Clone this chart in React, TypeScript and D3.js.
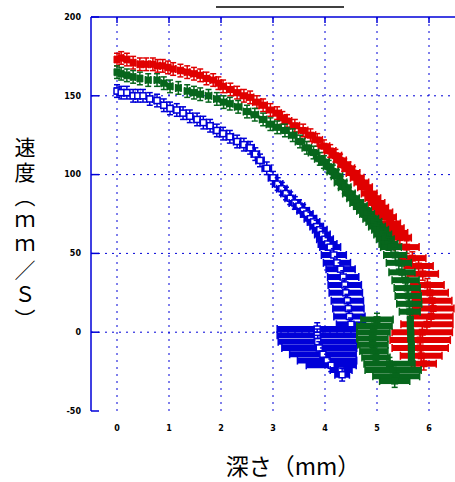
import React from 'react';
import * as d3 from 'd3';

const width = 455;
const height = 482;
const margin = {top: 17, left: 91, bottom: 411, right: 455};
const blue = '#0000d8';
const green = '#07661c';
const red = '#e00000';

const xTicks = [0, 1, 2, 3, 4, 5, 6];
const yTicks = [-50, 0, 50, 100, 150, 200];

// [depth, speed, depth error]
const blueData: [number, number, number][] = [
  [0.00, 153, 0.04], [0.08, 152, 0.04], [0.19, 152, 0.04], [0.31, 150, 0.04], [0.40, 150, 0.05],
  [0.50, 150, 0.05], [0.63, 148, 0.05], [0.77, 147, 0.05], [0.90, 144, 0.05], [1.02, 142, 0.05],
  [1.15, 141, 0.06], [1.27, 139, 0.06], [1.40, 137, 0.06], [1.54, 135, 0.06], [1.66, 133, 0.06],
  [1.79, 131, 0.06], [1.92, 128, 0.07], [2.04, 126, 0.07], [2.17, 124, 0.07], [2.31, 121, 0.07],
  [2.44, 119, 0.08], [2.56, 117, 0.08], [2.66, 113, 0.08], [2.75, 109, 0.08], [2.88, 104, 0.09],
  [3.00, 98, 0.09], [3.09, 94, 0.1], [3.17, 91, 0.1], [3.25, 88, 0.1], [3.33, 85, 0.1],
  [3.42, 82, 0.11], [3.50, 80, 0.11], [3.58, 77, 0.12], [3.65, 75, 0.12], [3.72, 72, 0.12],
  [3.78, 70, 0.12], [3.84, 67, 0.13], [3.90, 65, 0.14], [3.95, 62, 0.15], [4.00, 59, 0.16],
  [4.05, 56, 0.18], [4.10, 54, 0.2], [4.17, 49, 0.24], [4.23, 44, 0.26], [4.30, 40, 0.28],
  [4.35, 35, 0.3], [4.38, 30, 0.32], [4.40, 25, 0.32], [4.43, 20, 0.31], [4.45, 15, 0.3],
  [4.47, 10, 0.3], [4.50, 5, 0.28],
  [3.85, 2, 0.77], [3.85, -2, 0.77], [3.86, -6, 0.76], [3.89, -10, 0.72], [3.96, -14, 0.64],
  [4.04, -18, 0.57], [4.12, -21, 0.48], [4.31, -24, 0.21], [4.33, -27, 0.14],
];

const redData: [number, number, number][] = [
  [0.00, 173, 0.04], [0.08, 174, 0.04], [0.19, 173, 0.04], [0.31, 171, 0.04], [0.44, 170, 0.04],
  [0.56, 170, 0.05], [0.69, 170, 0.05], [0.78, 169, 0.05], [0.88, 169, 0.05], [0.98, 168, 0.05],
  [1.08, 167, 0.05], [1.22, 166, 0.05], [1.35, 165, 0.05], [1.48, 164, 0.06], [1.60, 163, 0.06],
  [1.72, 161, 0.06], [1.85, 160, 0.06], [1.95, 158, 0.06], [2.04, 156, 0.06], [2.18, 154, 0.07],
  [2.31, 152, 0.07], [2.44, 150, 0.07], [2.56, 149, 0.07], [2.69, 146, 0.08], [2.81, 144, 0.08],
  [2.95, 141, 0.08], [3.08, 139, 0.08], [3.18, 136, 0.09], [3.27, 134, 0.09], [3.42, 131, 0.09],
  [3.58, 128, 0.09], [3.72, 125, 0.1], [3.85, 122, 0.1], [3.98, 118, 0.11], [4.10, 115, 0.11],
  [4.20, 112, 0.12], [4.29, 109, 0.12], [4.37, 106, 0.12], [4.45, 104, 0.12], [4.54, 101, 0.13],
  [4.62, 98, 0.13], [4.70, 95, 0.14], [4.77, 92, 0.14], [4.85, 88, 0.15], [4.92, 85, 0.15],
  [4.99, 82, 0.16], [5.06, 79, 0.16], [5.13, 76, 0.17], [5.19, 73, 0.18], [5.26, 69, 0.19],
  [5.32, 66, 0.2], [5.38, 63, 0.21], [5.44, 60, 0.22], [5.57, 54, 0.24], [5.68, 47, 0.26],
  [5.80, 42, 0.28], [5.88, 37, 0.3], [5.97, 30, 0.32], [6.02, 25, 0.35], [6.06, 20, 0.38],
  [6.08, 15, 0.4], [6.04, 10, 0.42], [5.96, 5, 0.5], [5.87, 0, 0.58], [5.83, -5, 0.58],
  [5.83, -10, 0.54], [5.85, -15, 0.4], [5.90, -20, 0.24],
];

const greenData: [number, number, number][] = [
  [0.00, 165, 0.04], [0.08, 164, 0.04], [0.19, 163, 0.04], [0.31, 162, 0.04], [0.44, 161, 0.04],
  [0.60, 160, 0.05], [0.77, 160, 0.05], [0.90, 158, 0.05], [1.02, 156, 0.05], [1.18, 155, 0.05],
  [1.35, 153, 0.05], [1.48, 152, 0.06], [1.60, 151, 0.06], [1.76, 150, 0.06], [1.92, 148, 0.06],
  [2.05, 146, 0.06], [2.17, 145, 0.06], [2.33, 143, 0.07], [2.50, 140, 0.07], [2.65, 138, 0.07],
  [2.81, 135, 0.07], [2.95, 132, 0.08], [3.08, 130, 0.08], [3.23, 128, 0.08], [3.38, 125, 0.08],
  [3.52, 121, 0.09], [3.65, 117, 0.09], [3.78, 114, 0.1], [3.90, 110, 0.1], [3.98, 108, 0.1],
  [4.07, 105, 0.1], [4.15, 102, 0.11], [4.23, 99, 0.11], [4.30, 95, 0.12], [4.38, 92, 0.12],
  [4.46, 88, 0.12], [4.54, 85, 0.12], [4.61, 82, 0.13], [4.68, 80, 0.13], [4.75, 77, 0.14],
  [4.81, 75, 0.14], [4.88, 72, 0.15], [4.94, 70, 0.15], [5.00, 67, 0.16], [5.06, 65, 0.16],
  [5.11, 62, 0.17], [5.16, 59, 0.17], [5.22, 56, 0.18], [5.27, 54, 0.2], [5.35, 49, 0.22],
  [5.42, 44, 0.24], [5.48, 38, 0.25], [5.55, 33, 0.26], [5.58, 28, 0.25], [5.60, 23, 0.25],
  [5.62, 18, 0.24], [5.63, 13, 0.2],
  [5.64, 8, 0.05], [5.64, 4, 0.05], [5.65, 0, 0.05], [5.65, -4, 0.05], [5.66, -8, 0.05],
  [5.66, -12, 0.05], [5.66, -16, 0.05],
  [5.00, 8, 0.31], [4.95, 4, 0.34], [4.93, 0, 0.32], [4.91, -4, 0.3], [4.92, -8, 0.29],
  [4.94, -12, 0.27], [4.98, -16, 0.27], [5.24, -20, 0.49], [5.31, -24, 0.54], [5.37, -28, 0.45],
  [5.34, -31, 0.29],
];

const yTitle = '速度（ｍｍ／Ｓ）';

const xScale = d3.scaleLinear().domain([-0.5, 6.5]).range([margin.left, margin.right]);
const yScale = d3.scaleLinear().domain([-50, 200]).range([margin.bottom, margin.top]);

function Series({data, color, marker}: {data: [number, number, number][], color: string, marker: string}) {
  return (
    <g>
      {data.map(([d, s, e], i) => {
        const cx = xScale(d);
        const cy = yScale(s);
        const x0 = xScale(d - e);
        const x1 = xScale(d + e);
        const y0 = yScale(s + 4);
        const y1 = yScale(s - 4);
        return (
          <g key={i}>
            <line x1={x0} x2={x1} y1={cy} y2={cy} stroke={color} strokeWidth={6}/>
            <line x1={x0} x2={x0} y1={cy - 4} y2={cy + 4} stroke={color} strokeWidth={1.5}/>
            <line x1={x1} x2={x1} y1={cy - 4} y2={cy + 4} stroke={color} strokeWidth={1.5}/>
            <line x1={cx} x2={cx} y1={y0} y2={y1} stroke={color} strokeWidth={1.5}/>
            <line x1={cx - 3} x2={cx + 3} y1={y0} y2={y0} stroke={color} strokeWidth={1.5}/>
            <line x1={cx - 3} x2={cx + 3} y1={y1} y2={y1} stroke={color} strokeWidth={1.5}/>
            {marker === 'open'
              ? <rect x={cx - 3} y={cy - 3} width={6} height={6} fill="white" stroke={color} strokeWidth={1.5}/>
              : <rect x={cx - 3.5} y={cy - 3.5} width={7} height={7} fill={color}/>}
          </g>
        );
      })}
    </g>
  );
}

export default function App() {
  return (
    <svg width={width} height={height} style={{position: 'absolute', left: 0, top: 0}}>
      <rect width={width} height={height} fill="white"/>
      {/* grid */}
      {xTicks.map(t => (
        <line key={'gx' + t} x1={xScale(t)} x2={xScale(t)} y1={margin.top} y2={margin.bottom}
          stroke={blue} strokeWidth={1} strokeDasharray="2,5"/>
      ))}
      {yTicks.filter(t => t > -50 && t < 200).map(t => (
        <line key={'gy' + t} x1={margin.left} x2={margin.right} y1={yScale(t)} y2={yScale(t)}
          stroke={blue} strokeWidth={1} strokeDasharray="2,5"/>
      ))}
      {/* axes */}
      <line x1={margin.left} x2={margin.left} y1={margin.top} y2={margin.bottom} stroke={blue} strokeWidth={1.5}/>
      <line x1={margin.left} x2={margin.right} y1={margin.top} y2={margin.top} stroke={blue} strokeWidth={1.5}/>
      {yTicks.map(t => (
        <line key={'ty' + t} x1={margin.left} x2={margin.left + 8} y1={yScale(t)} y2={yScale(t)} stroke={blue} strokeWidth={1.5}/>
      ))}
      {xTicks.map(t => (
        <line key={'tx' + t} x1={xScale(t)} x2={xScale(t)} y1={margin.top} y2={margin.top + 6} stroke={blue} strokeWidth={1.5}/>
      ))}
      {yTicks.map(t => (
        <text key={'ly' + t} x={81} y={yScale(t)} dy="0.35em" textAnchor="end" fontSize={8}
          fontWeight="bold" fontFamily="DejaVu Sans">{t}</text>
      ))}
      {xTicks.map(t => (
        <text key={'lx' + t} x={xScale(t)} y={428} dy="0.35em" textAnchor="middle" fontSize={8}
          fontWeight="bold" fontFamily="DejaVu Sans">{t}</text>
      ))}
      {/* data */}
      <Series data={blueData} color={blue} marker="open"/>
      <Series data={redData} color={red} marker="filled"/>
      <Series data={greenData} color={green} marker="filled"/>
      {/* top line */}
      <line x1={216} x2={344} y1={7} y2={7} stroke="black" strokeWidth={1.5}/>
      {/* titles */}
      <text x={293} y={475} textAnchor="middle" fontSize={23} fontFamily="Noto Sans CJK JP">深さ（mm）</text>
      <text x={25} y={137} fontSize={21} fontFamily="Noto Sans CJK JP"
        style={{writingMode: 'vertical-rl', textOrientation: 'upright', letterSpacing: '3.5px'}}>{yTitle}</text>
    </svg>
  );
}
